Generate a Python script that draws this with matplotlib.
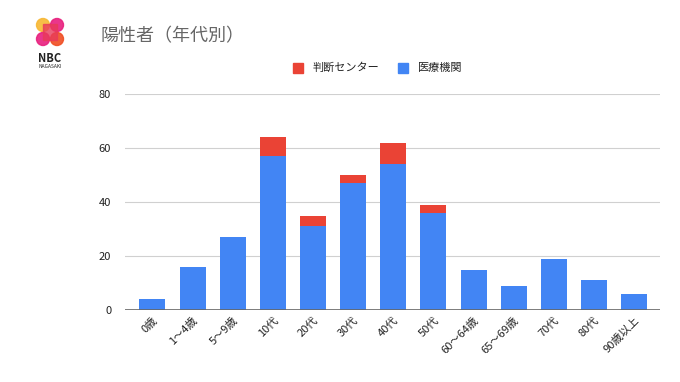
import matplotlib.pyplot as plt
from matplotlib.patches import Circle, Rectangle
import numpy as np

plt.rcParams['font.family'] = ['Noto Sans CJK JP', 'DejaVu Sans']

ages = ['0歳', '1～4歳', '5～9歳', '10代', '20代', '30代', '40代', '50代',
        '60～64歳', '65～69歳', '70代', '80代', '90歳以上']
iryo = [4, 16, 27, 57, 31, 47, 54, 36, 15, 9, 19, 11, 6]
center = [0, 0, 0, 7, 4, 3, 8, 3, 0, 0, 0, 0, 0]

red = '#EA4335'
blue = '#4285F4'

fig = plt.figure(figsize=(6.8, 3.82), dpi=100)
ax = fig.add_axes([0.184, 0.188, 0.787, 0.566])

x = np.arange(len(ages))
ax.bar(x, iryo, width=0.65, color=blue, label='医療機関', zorder=2)
ax.bar(x, center, width=0.65, bottom=iryo, color=red, label='判断センター', zorder=2)

ax.set_xlim(-0.68, 12.65)
ax.set_ylim(0, 80)
ax.set_yticks([0, 20, 40, 60, 80])
ax.grid(axis='y', color='#d0d0d0', linewidth=0.8, zorder=0)
ax.axhline(0, color='#666666', linewidth=1.2, zorder=3)
for s in ax.spines.values():
    s.set_visible(False)
ax.tick_params(axis='both', length=0, labelsize=8, colors='#222222')
ax.tick_params(axis='y', pad=10)
ax.set_xticks(x)
ax.set_xticklabels(ages, rotation=45, ha='right', rotation_mode='anchor')

# legend
fig.patches.append(Rectangle((293 / 680, 1 - 73 / 382), 10 / 680, 10 / 382,
                             transform=fig.transFigure, color=red))
fig.text(313 / 680, 1 - 68 / 382, '判断センター', fontsize=8, va='center', color='#222222')
fig.patches.append(Rectangle((398 / 680, 1 - 73 / 382), 10 / 680, 10 / 382,
                             transform=fig.transFigure, color=blue))
fig.text(418 / 680, 1 - 68 / 382, '医療機関', fontsize=8, va='center', color='#222222')

# title
fig.text(100 / 680, 1 - 36 / 382, '陽性者（年代別）', fontsize=13, va='center', color='#666666')

# logo
lax = fig.add_axes([30 / 680, 1 - 52 / 382, 40 / 680, 36 / 382])
lax.set_xlim(0, 40)
lax.set_ylim(0, 36)
lax.set_aspect('equal')
lax.axis('off')
for (cx, cy, c) in [(13, 27, '#F7B733'), (27, 27, '#E8207E'), (13, 13, '#E8207E'), (27, 13, '#F04E23')]:
    lax.add_patch(Circle((cx, cy), 6.5, color=c, alpha=0.9))
lax.add_patch(Rectangle((13, 12), 14, 16, color='#E83A5A', alpha=0.8))
fig.text(50 / 680, 1 - 58 / 382, 'NBC', fontsize=8, ha='center', va='center', weight='bold', color='#222222')
fig.text(50 / 680, 1 - 66 / 382, 'NAGASAKI', fontsize=3.5, ha='center', va='center', color='#222222')

fig.savefig('out.png', dpi=100)
